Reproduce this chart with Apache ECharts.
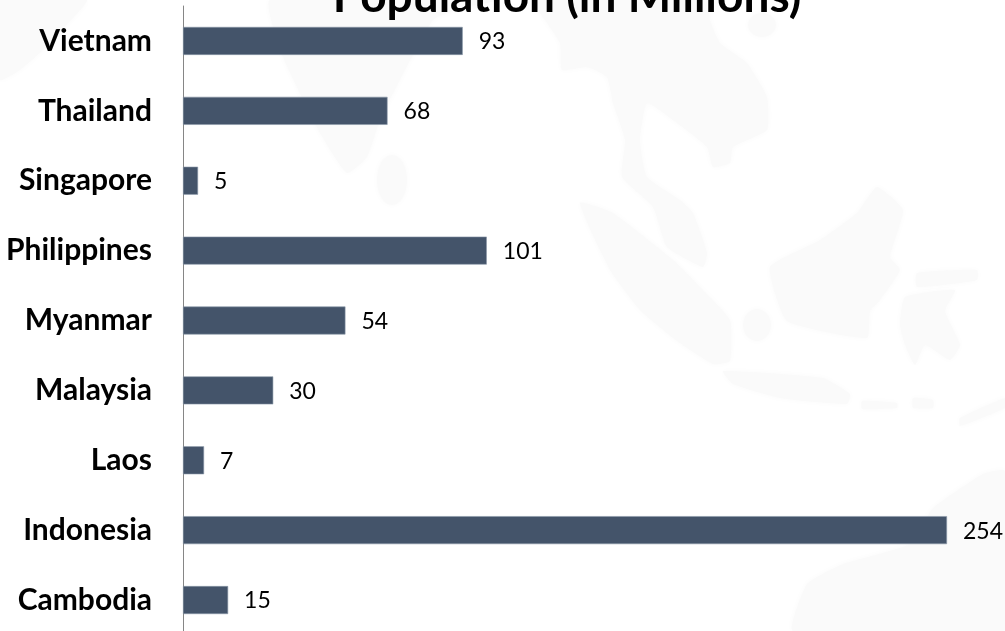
<!DOCTYPE html>
<html>
<head>
<meta charset="utf-8">
<style>html,body{margin:0;padding:0;background:#fff}#c{width:1005px;height:631px}</style>
<script src="https://cdn.jsdelivr.net/npm/echarts@6/dist/echarts.min.js"></script>
</head>
<body>
<div id="c"></div>
<script>
// ASEAN population by country, in millions (bottom to top on the axis)
const countries = ['Cambodia','Indonesia','Laos','Malaysia','Myanmar','Philippines','Singapore','Thailand','Vietnam'];
const population = [15,254,7,30,54,101,5,68,93];
const chartTitle = 'Population (in Millions)';

// Pale backdrop map of the region, drawn behind the chart
const landFill = '#fafafa';
const land = [
  [[0,0],[87,0],[83,7],[43,50],[20,70],[0,80]],
  [[270,0],[283,57],[320,133],[347,173],[367,157],[380,120],[433,20],[467,7],[500,0]],
  [[533,0],[540,13],[560,43],[562,70],[587,67],[607,77],[613,103],[625,140],[622,177],[653,207],[667,247],[703,267],[707,253],[693,213],[680,200],[647,177],[640,140],[647,103],[673,120],[707,147],[713,167],[730,163],[733,147],[767,130],[767,97],[747,63],[720,43],[710,20],[707,0]],
  [[580,203],[613,213],[673,260],[700,287],[730,320],[730,361],[713,364],[677,341],[640,310],[610,270]],
  [[877,187],[903,210],[890,257],[900,270],[880,300],[870,311],[867,338],[787,321],[770,267],[820,240],[857,213]],
  [[723,371],[823,378],[850,394],[847,404],[780,398],[733,384]],
  [[862,401],[897,403],[897,408],[862,409]],
  [[913,398],[933,400],[933,408],[913,408]],
  [[960,418],[1005,398],[1005,408],[960,426]],
  [[905,297],[955,290],[945,311],[960,345],[950,360],[925,345],[915,365],[905,345],[900,325]],
  [[917,273],[977,270],[977,280],[917,287]],
  [[793,631],[807,584],[843,564],[910,544],[933,508],[983,474],[1005,471],[1005,631]]
];
const islands = [[762,25,14,12],[757,325,14,16],[392,180,15,25]];

const softEdge = {fill:landFill, shadowColor:landFill, shadowBlur:6};
const backdrop = land.map(points => ({
  type:'polygon', z:-10, silent:true,
  shape:{points, smooth:0.15},
  style:softEdge
})).concat(islands.map(([cx,cy,rx,ry]) => ({
  type:'ellipse', z:-10, silent:true,
  shape:{cx,cy,rx,ry},
  style:softEdge
})));

const chart = echarts.init(document.getElementById('c'), null, {renderer:'canvas'});
chart.setOption({
  animation:false,
  backgroundColor:'#ffffff',
  graphic:backdrop,
  title:{
    text:chartTitle,
    left:562, top:-31, textAlign:'center',
    textStyle:{fontFamily:'Lato',fontWeight:'bold',fontSize:46,color:'#000'}
  },
  grid:{left:183,top:6,width:764,height:629,outerBoundsMode:'none'},
  xAxis:{type:'value',min:0,max:254,show:false},
  yAxis:{
    type:'category',
    data:countries,
    axisLine:{show:true,lineStyle:{color:'#868686',width:1}},
    axisTick:{show:false},
    axisLabel:{fontFamily:'Lato',fontWeight:'bold',fontSize:30,color:'#000',margin:31,align:'right',padding:[2,0,0,0]}
  },
  series:[{
    type:'bar',
    data:population,
    barWidth:28,
    itemStyle:{color:'#44546a',borderColor:'#8a97a8',borderWidth:0.6},
    label:{show:true,position:'right',distance:16,offset:[0,1],fontFamily:'Lato',fontSize:23,color:'#000'}
  }]
});
</script>
</body>
</html>
